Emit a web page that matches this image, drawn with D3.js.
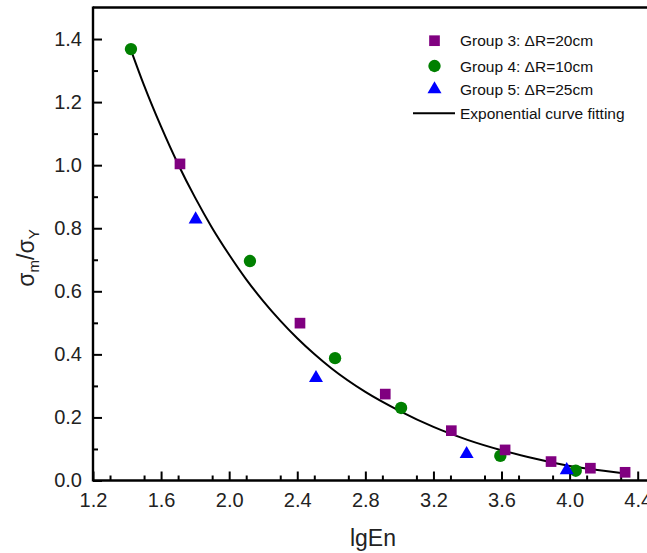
<!DOCTYPE html>
<html>
<head>
<meta charset="utf-8">
<script src="https://cdn.jsdelivr.net/npm/d3@7/dist/d3.min.js"></script>
<style>
  html, body { margin: 0; padding: 0; background: #fff; }
  svg { display: block; font-family: "Liberation Sans", Arial, sans-serif; }
</style>
</head>
<body>
<svg id="chart" width="647" height="553"></svg>
<script>
// ---- data ----
const group3X = [1.711, 2.416, 2.917, 3.305, 3.621, 3.891, 4.122, 4.326];
const group3Y = [1.004, 0.499, 0.274, 0.158, 0.097, 0.060, 0.039, 0.026];
const group4X = [1.423, 2.122, 2.622, 3.010, 3.593, 4.036];
const group4Y = [1.368, 0.696, 0.388, 0.230, 0.078, 0.031];
const group5X = [1.803, 2.510, 3.395, 3.983];
const group5Y = [0.828, 0.325, 0.084, 0.033];
// points
const fitX = [1.423, 1.5, 1.6, 1.7, 1.8, 1.9, 2.0, 2.1, 2.2, 2.3, 2.4, 2.5, 2.6, 2.8, 3.0, 3.2, 3.4, 3.6, 3.8, 4.0, 4.2, 4.326];
const fitY = [1.365, 1.253, 1.122, 1.003, 0.897, 0.801, 0.716, 0.638, 0.569, 0.507, 0.451, 0.401, 0.356, 0.281, 0.221, 0.170, 0.129, 0.096, 0.069, 0.046, 0.031, 0.022];
const xTicks = [1.2, 1.6, 2.0, 2.4, 2.8, 3.2, 3.6, 4.0, 4.4];
const yTicks = [0.0, 0.2, 0.4, 0.6, 0.8, 1.0, 1.2, 1.4];
const legendLabels = ["Group 3: ΔR=20cm", "Group 4: ΔR=10cm", "Group 5: ΔR=25cm", "Exponential curve fitting"];

const svg = d3.select("#chart");
const pL = 93, pR = 647, pT = 7.5, pB = 480.5;
const x = d3.scaleLinear().domain([1.2, 4.4]).range([pL, 637.7]);
const y = d3.scaleLinear().domain([0, 1.5]).range([pB, pT]);

// minor ticks
const xMinor = d3.range(1.3, 4.45, 0.2).map(v => +v.toFixed(2));
const yMinor = d3.range(0.1, 1.5, 0.2).map(v => +v.toFixed(2));

const gxMinor = svg.append("g").attr("transform", `translate(0,${pB})`)
  .call(d3.axisBottom(x).tickValues(xMinor).tickSize(-5).tickFormat(""));
const gyMinor = svg.append("g").attr("transform", `translate(${pL},0)`)
  .call(d3.axisLeft(y).tickValues(yMinor).tickSize(-5).tickFormat(""));

const gx = svg.append("g").attr("transform", `translate(0,${pB})`)
  .call(d3.axisBottom(x).tickValues(xTicks).tickSize(-9).tickPadding(12).tickFormat(d3.format(".1f")));
const gy = svg.append("g").attr("transform", `translate(${pL},0)`)
  .call(d3.axisLeft(y).tickValues(yTicks).tickSize(-9).tickPadding(11).tickFormat(d3.format(".1f")));

[gxMinor, gyMinor, gx, gy].forEach(g => {
  g.select(".domain").remove();
  g.selectAll(".tick line").attr("stroke", "#000").attr("stroke-width", 2);
});
gx.selectAll(".tick text").attr("font-size", 20).attr("fill", "#222");
gy.selectAll(".tick text").attr("font-size", 20).attr("fill", "#222");

// frame lines (left, bottom, top)
svg.append("line").attr("x1", pL).attr("x2", pL).attr("y1", pT - 1).attr("y2", pB + 1)
  .attr("stroke", "#000").attr("stroke-width", 2.4);
svg.append("line").attr("x1", pL).attr("x2", pR).attr("y1", pB).attr("y2", pB)
  .attr("stroke", "#000").attr("stroke-width", 2.4);
svg.append("line").attr("x1", pL).attr("x2", pR).attr("y1", pT).attr("y2", pT)
  .attr("stroke", "#000").attr("stroke-width", 2.4);

// fit curve
const fitData = fitX.map((v, i) => [v, fitY[i]]);
svg.append("path").datum(fitData)
  .attr("fill", "none").attr("stroke", "#000").attr("stroke-width", 2)
  .attr("d", d3.line().x(d => x(d[0])).y(d => y(d[1])).curve(d3.curveMonotoneX));

// markers
const sq = d3.symbol().type(d3.symbolSquare).size(114);
const ci = d3.symbol().type(d3.symbolCircle).size(120);
const tr = d3.symbol().type(d3.symbolTriangle).size(85);

svg.append("g").selectAll("path").data(group4X.map((v, i) => [v, group4Y[i]])).join("path")
  .attr("d", ci).attr("fill", "#008000")
  .attr("transform", d => `translate(${x(d[0])},${y(d[1])})`);
svg.append("g").selectAll("path").data(group3X.map((v, i) => [v, group3Y[i]])).join("path")
  .attr("d", sq).attr("fill", "#800080")
  .attr("transform", d => `translate(${x(d[0])},${y(d[1])})`);
svg.append("g").selectAll("path").data(group5X.map((v, i) => [v, group5Y[i]])).join("path")
  .attr("d", tr).attr("fill", "#0000ff")
  .attr("transform", d => `translate(${x(d[0])},${y(d[1])})`);

// legend
const lg = svg.append("g");
const lgY = [40.7, 66, 89.3, 113.3];
const lgSyms = [[sq, "#800080"], [ci, "#008000"], [tr, "#0000ff"]];
lgSyms.forEach((s, i) => {
  lg.append("path").attr("d", s[0]).attr("fill", s[1]).attr("transform", `translate(434.5,${lgY[i]})`);
});
lg.append("line").attr("x1", 413).attr("x2", 455).attr("y1", lgY[3]).attr("y2", lgY[3])
  .attr("stroke", "#000").attr("stroke-width", 2);
legendLabels.forEach((t, i) => {
  lg.append("text").attr("x", 460).attr("y", lgY[i]).attr("dy", "0.36em")
    .attr("font-size", 15.5).attr("fill", "#111").text(t);
});

// axis titles
svg.append("text").attr("x", 373).attr("y", 546).attr("text-anchor", "middle")
  .attr("font-size", 23).attr("fill", "#222").text("lgEn");

const yl = svg.append("text").attr("transform", "translate(34,258) rotate(-90)")
  .attr("text-anchor", "middle").attr("font-size", 23).attr("fill", "#222");
yl.append("tspan").text("σ");
yl.append("tspan").attr("font-size", 15).attr("dy", 5).text("m");
yl.append("tspan").attr("dy", -5).text("/σ");
yl.append("tspan").attr("font-size", 15).attr("dy", 5).text("Y");
</script>
</body>
</html>
